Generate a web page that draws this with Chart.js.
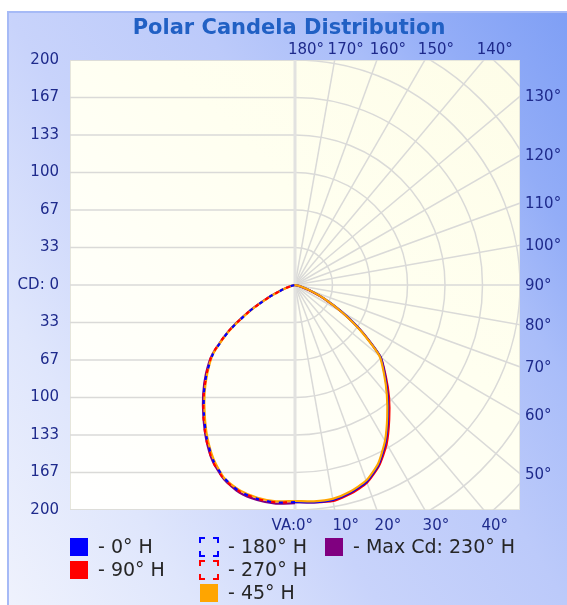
<!DOCTYPE html>
<html>
<head>
<meta charset="utf-8">
<script src="https://cdn.jsdelivr.net/npm/chart.js@4.4.1/dist/chart.umd.min.js"></script>
<style>
  html, body { margin: 0; padding: 0; background: #fff; }
  #wrap { width: 567px; height: 605px; position: relative; }
</style>
</head>
<body>
<div id="wrap"><canvas id="myChart"></canvas></div>
<script>
// vertical angles (deg from nadir) and candela per horizontal plane
const vAngles = [0, 5, 10, 15, 20, 25, 30, 35, 40, 45, 50, 55, 60, 65, 70, 75, 80, 85, 90];
const cd0H   = [193, 194, 194, 191, 186, 176, 161, 144, 128, 113, 99, 73, 49, 29, 14, 6, 2, 0, 0];
const cd90H  = [193, 194, 195, 192, 187, 177, 163, 146, 130, 114, 99, 73, 48, 28, 13, 5, 1, 0, 0];
const cd45H  = [192, 193, 193, 190, 185, 175, 160, 143, 127, 112, 98, 72, 48, 29, 14, 6, 2, 0, 0];
const cd180H = [193, 194, 193, 190, 183, 172, 157, 141, 126, 111, 95, 72, 47, 25, 11, 4, 1, 0, 0];
const cd270H = [193, 194, 193, 190, 184, 173, 158, 142, 126, 111, 96, 73, 47, 25, 11, 4, 1, 0, 0];
const cd225H = [192, 193, 192, 189, 183, 171, 156, 140, 125, 110, 95, 72, 46, 24, 11, 4, 1, 0, 0];
const cdMax  = [194, 195, 194, 191, 184, 173, 158, 142, 127, 112, 96, 73, 48, 26, 12, 5, 1, 0, 0];

// tick labels
const cdTickValues = [-200, -166.667, -133.333, -100, -66.667, -33.333, 0, 33.333, 66.667, 100, 133.333, 166.667, 200];
const cdTickLabels = ['200', '167', '133', '100', '67', '33', 'CD: 0', '33', '67', '100', '133', '167', '200'];
const ringValues = [33.333, 66.667, 100, 133.333, 166.667, 200, 233.333, 266.667, 300];
const radialAngles = [0, 10, 20, 30, 40, 50, 60, 70, 80, 90, 100, 110, 120, 130, 140, 150, 160, 170, 180];
const topAngles = [180, 170, 160, 150, 140];
const rightAngles = [130, 120, 110, 100, 90, 80, 70, 60, 50];
const bottomAngles = [0, 10, 20, 30, 40];
const legendLabels = ['- 0° H', '- 90° H', '- 180° H', '- 270° H', '- 45° H', '- Max Cd: 230° H'];

const FONT = '"DejaVu Sans", Verdana, sans-serif';
const AXIS_COLOR = '#1e2a8c';

// side = 1 right half, -1 left half
const toXY = (vals, side) => vals.map((cd, i) => {
  const a = vAngles[i] * Math.PI / 180;
  return { x: side * cd * Math.sin(a), y: -cd * Math.cos(a) };
});
const bothSides = (left, right) => toXY(left, -1).reverse().concat(toXY(right, 1).slice(1));

const polarGrid = {
  id: 'polarGrid',
  beforeDraw(chart) {
    const { ctx, chartArea: a, width, height } = chart;
    ctx.save();
    ctx.fillStyle = '#fff';
    ctx.fillRect(0, 0, width, height);
    const g = ctx.createLinearGradient(7, 605, 676, 184);
    g.addColorStop(0, '#eff2fd');
    g.addColorStop(0.2, '#dfe6fc');
    g.addColorStop(0.4, '#c8d3fb');
    g.addColorStop(0.6, '#bccafa');
    g.addColorStop(0.75, '#a9bdf9');
    g.addColorStop(0.85, '#93adf7');
    g.addColorStop(1, '#7f9ff5');
    ctx.fillStyle = g;
    ctx.fillRect(7, 11, width - 7, height - 11);
    ctx.strokeStyle = '#a6baf6';
    ctx.lineWidth = 2;
    ctx.beginPath();
    ctx.moveTo(8, height); ctx.lineTo(8, 12); ctx.lineTo(width, 12);
    ctx.stroke();

    const pg = ctx.createLinearGradient(a.left, a.bottom, a.right, a.top);
    pg.addColorStop(0, '#ffffff');
    pg.addColorStop(0.35, '#fffff7');
    pg.addColorStop(0.6, '#fffff0');
    pg.addColorStop(1, '#fefde8');
    ctx.fillStyle = pg;
    ctx.fillRect(a.left, a.top, a.right - a.left, a.bottom - a.top);
    ctx.strokeStyle = '#e6e6dc';
    ctx.lineWidth = 1;
    ctx.strokeRect(a.left + 0.5, a.top + 0.5, a.right - a.left - 1, a.bottom - a.top - 1);
    ctx.restore();
  },
  beforeDatasetsDraw(chart) {
    const { ctx, chartArea: a, scales: { x, y } } = chart;
    const cx = x.getPixelForValue(0), cy = y.getPixelForValue(0);
    const pxPerCd = (x.getPixelForValue(200) - cx) / 200;
    ctx.save();
    ctx.beginPath();
    ctx.rect(a.left, a.top, a.right - a.left, a.bottom - a.top);
    ctx.clip();
    ctx.strokeStyle = '#dadad8';
    ctx.lineWidth = 1.5;
    // left half: horizontal lines
    cdTickValues.forEach(v => {
      const py = y.getPixelForValue(v);
      ctx.beginPath();
      ctx.moveTo(a.left, py);
      ctx.lineTo(cx, py);
      ctx.stroke();
    });
    // right half: rings
    ringValues.forEach(r => {
      ctx.beginPath();
      ctx.arc(cx, cy, r * pxPerCd, -Math.PI / 2, Math.PI / 2);
      ctx.stroke();
    });
    // radial lines
    radialAngles.forEach(d => {
      const t = d * Math.PI / 180;
      ctx.beginPath();
      ctx.moveTo(cx, cy);
      ctx.lineTo(cx + 450 * Math.sin(t), cy + 450 * Math.cos(t));
      ctx.stroke();
    });
    ctx.strokeStyle = '#e2e2e0';
    ctx.lineWidth = 3;
    ctx.beginPath();
    ctx.moveTo(cx, a.top); ctx.lineTo(cx, a.bottom);
    ctx.stroke();
    ctx.restore();
  },
  afterDraw(chart) {
    const { ctx, chartArea: a, scales: { x, y } } = chart;
    const cx = x.getPixelForValue(0), cy = y.getPixelForValue(0);
    ctx.save();
    // title
    ctx.fillStyle = '#2160c4';
    ctx.font = 'bold 21px ' + FONT;
    ctx.textAlign = 'center';
    ctx.textBaseline = 'middle';
    ctx.fillText('Polar Candela Distribution', 289, 29);

    ctx.fillStyle = AXIS_COLOR;
    ctx.font = '15px ' + FONT;
    topAngles.forEach(d => {
      const t = d * Math.PI / 180;
      const px = cx + (a.top - cy) / Math.cos(t) * Math.sin(t);
      ctx.textAlign = 'center';
      ctx.fillText(d + '°', px + 11, a.top - 10);
    });
    rightAngles.forEach(d => {
      const t = d * Math.PI / 180;
      const py = cy + (a.right - cx) / Math.sin(t) * Math.cos(t);
      ctx.textAlign = 'left';
      ctx.fillText(d + '°', a.right + 5, py + 1);
    });
    bottomAngles.forEach(d => {
      const t = d * Math.PI / 180;
      const px = cx + (a.bottom - cy) / Math.cos(t) * Math.sin(t);
      if (d === 0) {
        ctx.textAlign = 'right';
        ctx.fillText('VA:0°', px + 18, a.bottom + 16);
      } else {
        ctx.textAlign = 'center';
        ctx.fillText(d + '°', px + 11, a.bottom + 16);
      }
    });

    // legend
    const ds = chart.data.datasets;
    const slots = [[70, 547], [70, 570], [200, 547], [200, 570], [200, 593], [325, 547]];
    ctx.font = '19px ' + FONT;
    ctx.textAlign = 'left';
    legendLabels.forEach((lbl, i) => {
      const d = ds[i];
      const [sx, sy] = slots[i];
      const s = 18, top = sy - 9;
      if (d.borderDash) {
        ctx.strokeStyle = d.borderColor;
        ctx.lineWidth = 2;
        const c = 5;
        ctx.beginPath();
        [[sx, top, 1, 1], [sx + s, top, -1, 1], [sx, top + s, 1, -1], [sx + s, top + s, -1, -1]].forEach(([px, py, dx, dy]) => {
          ctx.moveTo(px + dx * c, py); ctx.lineTo(px, py); ctx.lineTo(px, py + dy * c);
        });
        ctx.stroke();
      } else {
        ctx.fillStyle = d.borderColor;
        ctx.fillRect(sx, top, s, s);
      }
      ctx.fillStyle = '#262626';
      ctx.fillText(lbl, sx + 28, sy + 1);
    });
    ctx.restore();
  }
};

const line = (data, color, order, dash, offset) => ({
  data, borderColor: color, backgroundColor: color, showLine: true, order,
  pointRadius: 0, borderWidth: 2.2, tension: 0.2, fill: false,
  borderDash: dash, borderDashOffset: offset || 0
});

new Chart(document.getElementById('myChart'), {
  type: 'scatter',
  data: {
    datasets: [
      line(toXY(cd0H, 1), '#0000ff', 3),
      line(toXY(cd90H, 1), '#ff0000', 4),
      line(toXY(cd180H, -1), '#0000ff', 0, [4, 8], 0),
      line(toXY(cd270H, -1), '#ff0000', 1, [4, 8], 4),
      line(bothSides(cd225H, cd45H), '#ffa500', 2),
      line(toXY(cdMax, -1), '#800080', 5)
    ]
  },
  options: {
    responsive: true,
    maintainAspectRatio: false,
    devicePixelRatio: 1,
    animation: false,
    layout: { padding: { left: 0, top: 60, right: 47, bottom: 95 } },
    plugins: { legend: { display: false }, title: { display: false }, tooltip: { enabled: false } },
    scales: {
      x: { type: 'linear', min: -200, max: 200, display: false },
      y: {
        type: 'linear', min: -200, max: 200,
        afterBuildTicks: s => { s.ticks = cdTickValues.map(v => ({ value: v })); },
        afterFit: s => { s.width = 70; },
        grid: { display: false },
        border: { display: false },
        ticks: {
          autoSkip: false, padding: 3, color: AXIS_COLOR,
          font: { family: FONT, size: 15 },
          callback: (v, i) => cdTickLabels[i]
        }
      }
    }
  },
  plugins: [polarGrid]
});
</script>
</body>
</html>
